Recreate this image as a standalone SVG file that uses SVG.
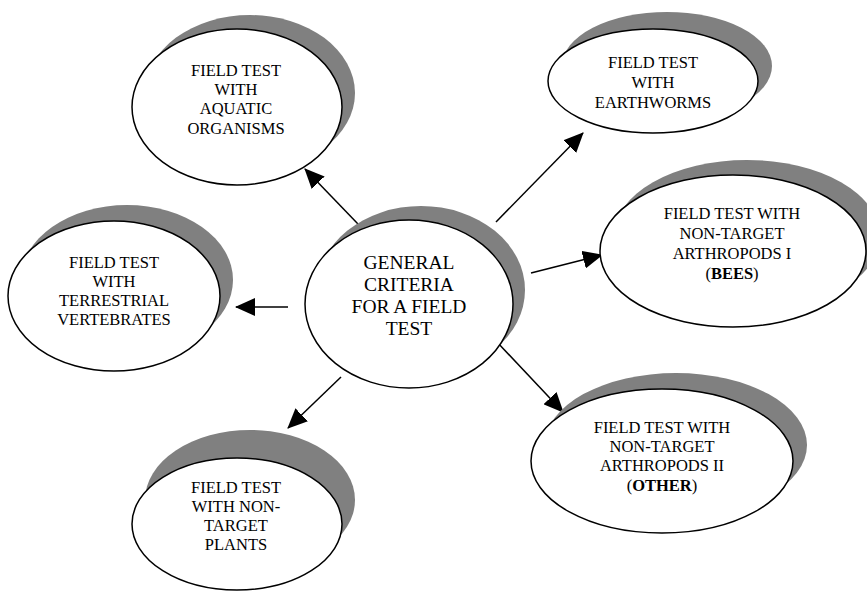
<svg xmlns="http://www.w3.org/2000/svg" width="867" height="592" viewBox="0 0 867 592">
<defs>
<style>
.sh{fill:#808080;stroke:none}
.el{fill:#fff;stroke:#000;stroke-width:1.5}
.t{font-family:"Liberation Serif","Times New Roman",serif;font-size:16.5px;fill:#000;text-anchor:middle}
.tc{font-family:"Liberation Serif","Times New Roman",serif;font-size:19.5px;fill:#000;text-anchor:middle}
.b{font-weight:bold}
.c{stroke:#000;stroke-width:1.5;fill:none;marker-end:url(#ah)}
</style>
<marker id="ah" markerUnits="userSpaceOnUse" markerWidth="20" markerHeight="18" viewBox="0 0 20 18" refX="19" refY="9" orient="auto">
<path d="M0,0 L20,9 L0,18 z" fill="#000"/>
</marker>
</defs>
<g id="connectors">
<line class="c" x1="358" y1="224" x2="305" y2="169"/>
<line class="c" x1="496" y1="222" x2="583" y2="133"/>
<line class="c" x1="531" y1="273" x2="602" y2="255"/>
<line class="c" x1="288" y1="307" x2="236" y2="307"/>
<line class="c" x1="497" y1="342" x2="563" y2="412"/>
<line class="c" x1="341" y1="377" x2="288" y2="428"/>
</g>
<g id="center">
<ellipse class="sh" cx="421" cy="290" rx="104" ry="84"/>
<ellipse class="el" cx="409" cy="304" rx="104" ry="84"/>
<text class="tc" x="409" y="268.5">GENERAL</text>
<text class="tc" x="409" y="290.5">CRITERIA</text>
<text class="tc" x="409" y="312.5">FOR A FIELD</text>
<text class="tc" x="409" y="334.5">TEST</text>
</g>
<g id="aquatic">
<ellipse class="sh" cx="250" cy="93" rx="105" ry="78"/>
<ellipse class="el" cx="237" cy="107" rx="105" ry="78"/>
<text class="t" x="236" y="75.5">FIELD TEST</text>
<text class="t" x="236" y="95">WITH</text>
<text class="t" x="236" y="114">AQUATIC</text>
<text class="t" x="236" y="133.5">ORGANISMS</text>
</g>
<g id="earthworms">
<ellipse class="sh" cx="667" cy="66" rx="105" ry="54"/>
<ellipse class="el" cx="653" cy="81" rx="105" ry="52"/>
<text class="t" x="653" y="67.5">FIELD TEST</text>
<text class="t" x="653" y="87.5">WITH</text>
<text class="t" x="653" y="107.5">EARTHWORMS</text>
</g>
<g id="bees">
<ellipse class="sh" cx="747" cy="236" rx="133" ry="76"/>
<ellipse class="el" cx="733" cy="251" rx="133" ry="76"/>
<text class="t" x="732" y="218.5">FIELD TEST WITH</text>
<text class="t" x="732" y="238.5">NON-TARGET</text>
<text class="t" x="732" y="258.5">ARTHROPODS I</text>
<text class="t" x="732" y="278.5">(<tspan class="b">BEES</tspan>)</text>
</g>
<g id="vertebrates">
<ellipse class="sh" cx="127" cy="280" rx="106" ry="75"/>
<ellipse class="el" cx="114" cy="296" rx="106" ry="75"/>
<text class="t" x="114" y="267.5">FIELD TEST</text>
<text class="t" x="114" y="286.5">WITH</text>
<text class="t" x="114" y="305.5">TERRESTRIAL</text>
<text class="t" x="114" y="324.5">VERTEBRATES</text>
</g>
<g id="other">
<ellipse class="sh" cx="676" cy="445" rx="131" ry="72"/>
<ellipse class="el" cx="662" cy="461" rx="131" ry="72"/>
<text class="t" x="662" y="432.5">FIELD TEST WITH</text>
<text class="t" x="662" y="451.5">NON-TARGET</text>
<text class="t" x="662" y="470.5">ARTHROPODS II</text>
<text class="t" x="662" y="490.5">(<tspan class="b">OTHER</tspan>)</text>
</g>
<g id="plants">
<ellipse class="sh" cx="250" cy="500" rx="105" ry="70"/>
<ellipse class="el" cx="237" cy="524" rx="105" ry="66"/>
<text class="t" x="236" y="492.5">FIELD TEST</text>
<text class="t" x="236" y="511.5">WITH NON-</text>
<text class="t" x="236" y="530.5">TARGET</text>
<text class="t" x="236" y="549.5">PLANTS</text>
</g>
</svg>
